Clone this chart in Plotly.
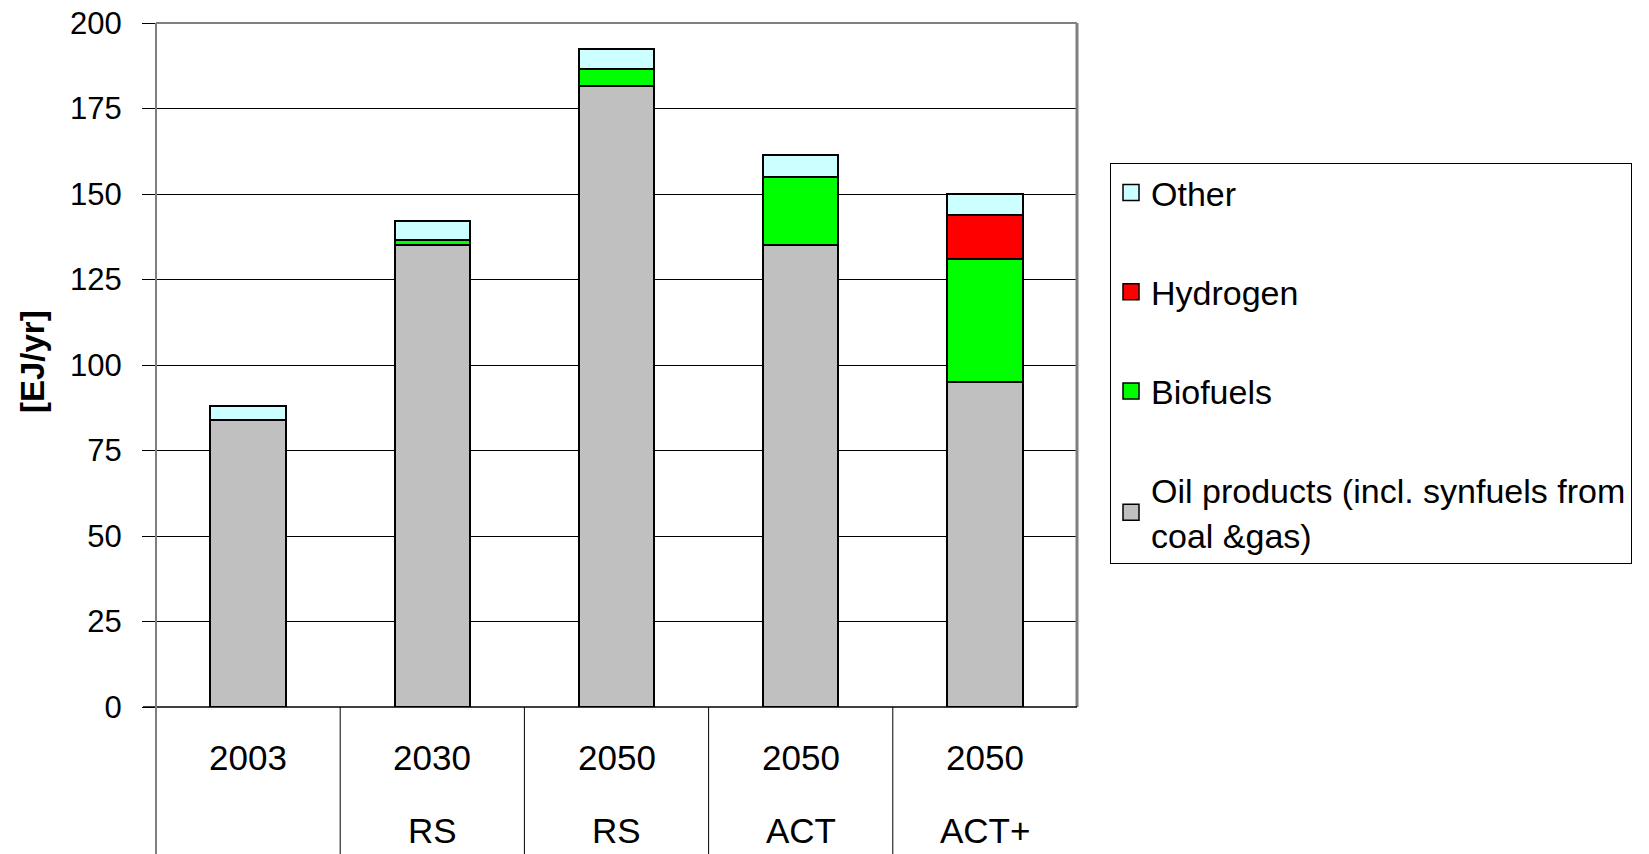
import plotly.graph_objects as go

# Transport fuel demand by scenario, EJ per year
categories = ["2003", "2030 RS", "2050 RS", "2050 ACT", "2050 ACT+"]
label_year = ["2003", "2030", "2050", "2050", "2050"]
label_scenario = ["", "RS", "RS", "ACT", "ACT+"]

oil_products = [84, 135, 181.5, 135, 95]
biofuels = [0, 1.5, 5, 20, 36]
hydrogen = [0, 0, 0, 0, 13]
other = [4, 5.5, 6, 6.5, 6]

FONT = "Arial, Liberation Sans, sans-serif"
W, H = 1649, 854
L, R, T, B = 156, 572, 23, 147
plot_w = W - L - R
plot_h = H - T - B

series = [
    ("Oil products (incl. synfuels from<br>coal &gas)", oil_products, "#C0C0C0", 4),
    ("Biofuels", biofuels, "#00FF00", 3),
    ("Hydrogen", hydrogen, "#FF0000", 2),
    ("Other", other, "#CCFFFF", 1),
]

fig = go.Figure()
for name, vals, color, rank in series:
    fig.add_trace(go.Bar(
        x=categories, y=vals, name=name, showlegend=False,
        marker=dict(color=color, line=dict(color="black", width=2)),
    ))
# legend keys drawn as square markers
for i, (name, vals, color, rank) in enumerate(series):
    fig.add_trace(go.Scatter(
        x=[None], y=[None], mode="markers", name=name,
        legendgroup=f"g{rank}", legendrank=rank,
        marker=dict(symbol="square", size=16, color=color,
                    line=dict(color="black", width=1.5)),
    ))

fig.update_layout(
    width=W, height=H,
    margin=dict(l=L, r=R, t=T, b=B, pad=0, autoexpand=False),
    barmode="stack", bargap=0.59,
    plot_bgcolor="white", paper_bgcolor="white",
    font=dict(family=FONT, size=30, color="black"),
    showlegend=True,
    legend=dict(
        x=(1110 - L) / plot_w, xanchor="left",
        y=(H - B - 163) / plot_h, yanchor="top",
        traceorder="grouped", tracegroupgap=52,
        bordercolor="black", borderwidth=1,
        font=dict(family=FONT, size=34, color="black"),
        itemwidth=30,
    ),
)

fig.update_xaxes(
    type="category", automargin=False,
    showticklabels=False, showgrid=False, zeroline=False,
    showline=False, ticks="", range=[-0.5, 4.5],
)
fig.update_yaxes(
    range=[0, 200], tickvals=list(range(0, 201, 25)), automargin=False,
    showgrid=True, gridcolor="black", gridwidth=1,
    zeroline=False, showline=False,
    ticks="outside", ticklen=13, tickcolor="black", tickwidth=1,
    ticklabelstandoff=14,
    tickfont=dict(family=FONT, size=31, color="black"),
)

shapes = []
# plot frame: top and right in grey
shapes.append(dict(type="line", xref="paper", yref="paper", x0=0, x1=1, y0=1, y1=1,
                   line=dict(color="#808080", width=2)))
shapes.append(dict(type="line", xref="paper", yref="paper", x0=1, x1=1, y0=0, y1=1,
                   line=dict(color="#808080", width=3)))
# baseline
shapes.append(dict(type="line", xref="paper", yref="paper", x0=-13 / plot_w, x1=1, y0=0, y1=0,
                   line=dict(color="black", width=1.5)))
# value axis running down through the category table
shapes.append(dict(type="line", xref="paper", yref="paper", x0=0, x1=0, y0=-B / plot_h, y1=1,
                   line=dict(color="#808080", width=2)))
# category table dividers
for k in range(1, len(categories)):
    shapes.append(dict(type="line", xref="x", yref="paper", x0=k - 0.5, x1=k - 0.5,
                       y0=-B / plot_h, y1=0, line=dict(color="black", width=1)))
fig.update_layout(shapes=shapes)

annotations = []
for k, (yr, sc) in enumerate(zip(label_year, label_scenario)):
    annotations.append(dict(x=k, xref="x", y=(H - B - 757) / plot_h, yref="paper",
                            text=yr, showarrow=False, xanchor="center", yanchor="middle",
                            font=dict(family=FONT, size=35)))
    if sc:
        annotations.append(dict(x=k, xref="x", y=(H - B - 830) / plot_h, yref="paper",
                                text=sc, showarrow=False, xanchor="center", yanchor="middle",
                                font=dict(family=FONT, size=35)))
annotations.append(dict(x=(32 - L) / plot_w, xref="paper", y=(H - B - 362) / plot_h, yref="paper",
                        text="<b>[EJ/yr]</b>", textangle=-90, showarrow=False,
                        xanchor="center", yanchor="middle",
                        font=dict(family=FONT, size=33)))
fig.update_layout(annotations=annotations)

fig.write_html("out.html")
